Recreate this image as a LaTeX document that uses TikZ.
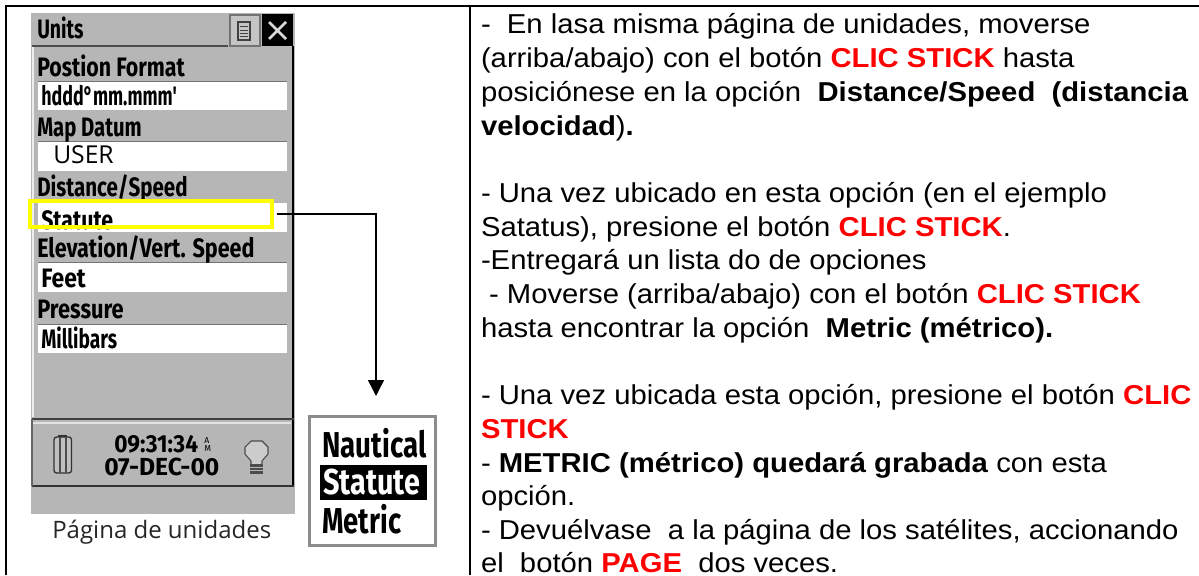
\documentclass[tikz,border=0pt]{standalone}
\usepackage{fontspec}
\setmainfont{Liberation Sans}
\newfontfamily\capfont{Open Sans}
\newfontfamily\lcdfont{Fira Sans}
\usetikzlibrary{arrows.meta}
\definecolor{panelgrey}{HTML}{B6B6B6}
\definecolor{clicred}{HTML}{FF0000}
\definecolor{markyellow}{HTML}{FFFF00}
\newcommand{\clic}[1]{\textcolor{clicred}{\textbf{#1}}}
\newcommand{\wideln}[1]{\scalebox{1.07}[1]{#1}}
\newcommand{\sqz}[2]{\scalebox{#1}[1]{#2}}
\tikzset{
  x=0.75pt,y=-0.75pt,
  txt/.style={anchor=base west,inner sep=0pt,outer sep=0pt,font=\fontsize{20.5pt}{24pt}\selectfont},
  lcd/.style={anchor=base west,inner sep=0pt,font=\lcdfont\bfseries\fontsize{20pt}{23pt}\selectfont},
  lcdbig/.style={anchor=base west,inner sep=0pt,font=\lcdfont\bfseries\fontsize{27pt}{30pt}\selectfont},
  lcdclock/.style={anchor=base west,inner sep=0pt,font=\lcdfont\bfseries\fontsize{18.5pt}{20pt}\selectfont},
  lcdtiny/.style={anchor=base west,inner sep=0pt,font=\lcdfont\fontsize{6.5pt}{7pt}\selectfont},
  field/.style={fill=white,draw=none},
  frameline/.style={line width=1.5pt,black},
  rule/.style={draw=black!55,line width=.7pt},
}
\begin{document}
\begin{tikzpicture}
\useasboundingbox (0,0) rectangle (1199,575);
\fill[white] (0,0) rectangle (1199,575);
% frame
\draw[frameline] (6,575) -- (6,6) -- (1199,6);
\draw[frameline] (470,6) -- (470,575);
% panel
\fill[panelgrey] (31,13) rectangle (295,514);
\draw[white!75!panelgrey,line width=1pt] (33,47) -- (33,417);
\draw[black,line width=1.2pt] (293,46) -- (293,486);
\draw[black!70,line width=1.2pt] (32,46) -- (228,46);
\draw[black!75,line width=2.2pt] (32,419) -- (294,419);
\draw[white!60!panelgrey,line width=1pt] (33,423) -- (291,423);
\draw[black!80,line width=1.5pt] (32,486) -- (294,486);
\draw[black!60,line width=1pt] (32,486) -- (32,419);
% title buttons
\draw[black!55,line width=1pt,fill=panelgrey!80!white] (230,15) rectangle (260,46);
\fill[black] (262,14) rectangle (293,46);
\draw[white!85!black,line width=2pt] (269,22) -- (286,39) (286,22) -- (269,39);
\draw[black!75,line width=1pt] (238,22) rectangle (250,40);
\draw[black!75,line width=.7pt] (240,26) -- (248,26) (240,30) -- (248,30) (240,33) -- (248,33) (240,36) -- (248,36);
% fields
\fill[field] (38,81) rectangle (287,110);
\fill[field] (38,142) rectangle (287,171);
\fill[field] (38,203) rectangle (287,232);
\fill[field] (38,263) rectangle (287,292);
\fill[field] (38,325) rectangle (287,353);
\draw[rule] (38,81) -- (287,81) (38,141) -- (287,141) (38,262) -- (287,262) (38,324) -- (287,324);
% labels
\node[lcd] (tUnits) at (37,38) {\sqz{.73}{Units}};
\node[lcd] (tPos) at (37,76) {\sqz{.80}{Postion Format}};
\node[lcd] (tHddd) at (41,105) {\sqz{.67}{hddd°mm.mmm'}};
\node[lcd] (tMap) at (37,136) {\sqz{.76}{Map Datum}};
\node[anchor=base west,inner sep=0pt,font=\capfont\fontsize{18.5pt}{20pt}\selectfont] (tUser) at (53,163) {USER};
\node[lcd] (tDist) at (37,196) {\sqz{.77}{Distance/Speed}};
\node[lcd] (tStat) at (41,229) {\sqz{.80}{Statute}};
\node[lcd] (tElev) at (37,257) {\sqz{.81}{Elevation/Vert. Speed}};
\node[lcd] (tFeet) at (41,287) {\sqz{.86}{Feet}};
\node[lcd] (tPres) at (37,318) {\sqz{.82}{Pressure}};
\node[lcd] (tMill) at (41,348) {\sqz{.72}{Millibars}};
% status
\draw[black!80,line width=1pt,rounded corners=2pt,fill=black!25] (54,437) rectangle (71.5,473);
\draw[black!70,line width=.8pt] (60,437) -- (60,473) (66,437) -- (66,473);
\fill[black!80] (58,434.5) rectangle (67,437);
\node[lcdclock] (tTime) at (114,452) {\sqz{.92}{09:31:34}};
\node[lcdtiny] (tA) at (204,443) {A};
\node[lcdtiny] (tM) at (204,451) {M};
\node[lcdclock] (tDate) at (104,475) {07-DEC-00};
% bulb
\draw[black!70,line width=.8pt,fill=panelgrey!70!white] (251,464) -- (251,461) -- (245,454) -- (245,447) -- (251,441) -- (262,441) -- (268,447) -- (268,454) -- (262,461) -- (262,464);
\fill[black!70] (250,464) rectangle (263,474);
\draw[panelgrey,line width=.6pt] (250,467) -- (263,467) (250,470) -- (263,470);
% caption
\node[anchor=base west,inner sep=0pt,font=\capfont\fontsize{18pt}{20pt}\selectfont,text=black!85] (tCap) at (52,538) {Página de unidades};
% menu
\node[draw=black!45,line width=2.5pt,fill=white,minimum width=94.5pt,minimum height=96.5pt,inner sep=0pt,outer sep=0pt,anchor=north west] (menu) at (309.5,416.5) {};
\fill[black] (320,465) rectangle (427,500);
\node[lcdbig] (mN) at (322,457) {\sqz{.77}{Nautical}};
\node[lcdbig,text=white] (mS) at (323,494) {\sqz{.80}{Statute}};
\node[lcdbig] (mM) at (322,533) {\sqz{.76}{Metric}};
% yellow mark and connector
\node[draw=markyellow,line width=2.3pt,minimum width=181.5pt,minimum height=19.5pt,inner sep=0pt,outer sep=0pt,anchor=north west] (yb) at (30,201) {};
\coordinate (cEnd) at (376,396);
\draw[black,line width=1.1pt,shorten <=3.5pt,-{Triangle[length=12pt,width=12pt]}] (yb.east) -| (cEnd);
% text
\node[txt] (l1) at (481,33) {\wideln{-\ \ En lasa misma página de unidades, moverse}};
\node[txt] (l2) at (481,67) {\wideln{(arriba/abajo) con el botón \clic{CLIC STICK} hasta}};
\node[txt] (l3) at (481,101) {\wideln{posiciónese en la opción\ \ \textbf{Distance/Speed\ \ (distancia}}};
\node[txt] (l4) at (481,135) {\wideln{\textbf{velocidad})\textbf{.}}};
\node[txt] (l6) at (481,202) {\wideln{- Una vez ubicado en esta opción (en el ejemplo}};
\node[txt] (l7) at (481,236) {\wideln{Satatus), presione el botón \clic{CLIC STICK}.}};
\node[txt] (l8) at (481,269) {\wideln{-Entregará un lista do de opciones}};
\node[txt] (l9) at (481,303) {\wideln{\ - Moverse (arriba/abajo) con el botón \clic{CLIC STICK}}};
\node[txt] (l10) at (481,337.5) {\wideln{hasta encontrar la opción\ \ \textbf{Metric (métrico).}}};
\node[txt] (l12) at (481,404) {\wideln{- Una vez ubicada esta opción, presione el botón \clic{CLIC}}};
\node[txt] (l13) at (481,438) {\wideln{\clic{STICK}}};
\node[txt] (l14) at (481,472) {\wideln{- \textbf{METRIC (métrico) quedará grabada} con esta}};
\node[txt] (l15) at (481,505) {\wideln{opción.}};
\node[txt] (l16) at (481,539) {\wideln{- Devuélvase\ \ a la página de los satélites, accionando}};
\node[txt] (l17) at (481,572) {\wideln{el\ \ botón \clic{PAGE}\ \ dos veces.}};
\end{tikzpicture}
\end{document}
